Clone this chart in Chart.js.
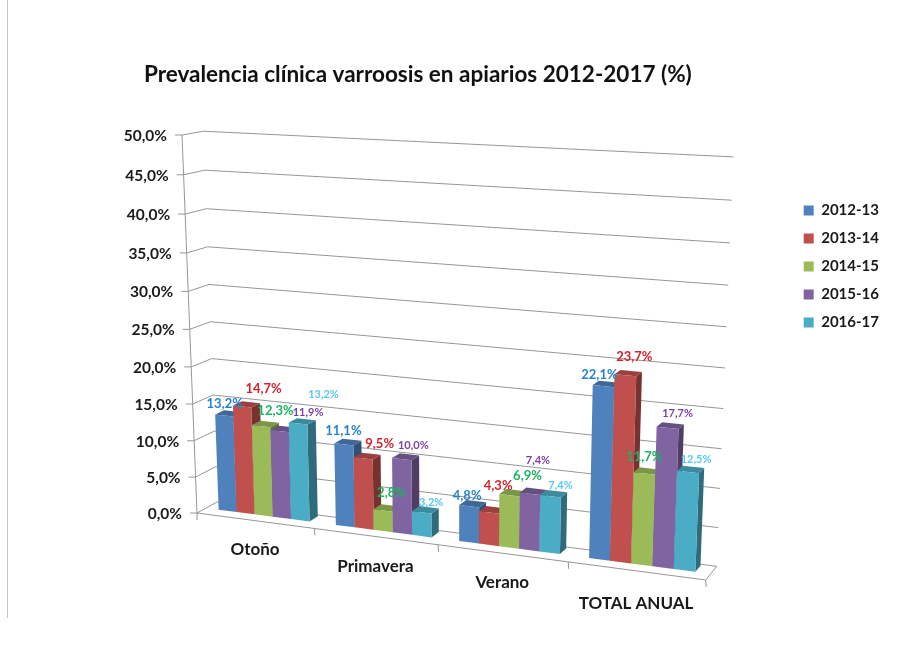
<!DOCTYPE html>
<html>
<head>
<meta charset="utf-8">
<title>Prevalencia clínica varroosis</title>
<script src="https://cdn.jsdelivr.net/npm/chart.js@4"></script>
<style>
    html, body { margin: 0; padding: 0; background: #fff; }
    #wrap { position: relative; width: 913px; height: 646px; }
    #edge { position: absolute; left: 7px; top: 0; width: 1px; height: 618px; background: #c4c4c4; }
</style>
</head>
<body>
<div id="wrap">
    <div id="edge"></div>
    <canvas id="my-chart" width="913" height="646"></canvas>
</div>
<script>
const categories = ['Otoño', 'Primavera', 'Verano', 'TOTAL ANUAL'];
const seriesNames = ['2012-13', '2013-14', '2014-15', '2015-16', '2016-17'];
const values1213 = [13.2, 11.1, 4.8, 22.1];
const values1314 = [14.7, 9.5, 4.3, 23.7];
const values1415 = [12.3, 2.8, 6.9, 11.7];
const values1516 = [11.9, 10.0, 7.4, 17.7];
const values1617 = [13.2, 3.2, 7.4, 12.5];
const allValues = [values1213, values1314, values1415, values1516, values1617];

const barColors = ['#4f81bd', '#c0504d', '#9bbb59', '#8064a2', '#4bacc6'];
const labelColors = ['#2583c9', '#d2232a', '#1db25f', '#7a3fa6', '#58c8ee'];

// the labels were placed by hand in the original, so they need their own nudges
const labelNudge = [
    [[0.5, -12], [-0.5, -13], [-2, -11], [-4, -11]],
    [[21.5, -18], [16.5, -15], [9, -27], [9, -18]],
    [[14.5, -15], [8.5, -18], [18, -19], [0, -17]],
    [[28.5, -19], [11.5, -14], [8, -33], [10, -15]],
    [[25.5, -29], [9.5, -10], [10, -11], [8, -13]]
];
const categoryNudge = [0, 1, 0, 4];

// 3D projection of the plot box: u along categories, v up the value axis, d into the page
const P0 = [197, 513];
const persp = { c: -0.0997, e: -0.055, f: 0.02 };
const cornerU = [705.7, 580];
const cornerV = [182, 135];
const cornerD = [217, 502];
const vecU = cornerU.map((n, i) => (1 + persp.c) * n - P0[i]);
const vecV = cornerV.map((n, i) => (1 + persp.e) * n - P0[i]);
const vecD = cornerD.map((n, i) => (1 + persp.f) * n - P0[i]);

function project(u, v, d) {
    const w = 1 + persp.c * u + persp.e * v + persp.f * d;
    return [
        (P0[0] + u * vecU[0] + v * vecV[0] + d * vecD[0]) / w,
        (P0[1] + u * vecU[1] + v * vecV[1] + d * vecD[1]) / w
    ];
}

const barFront = 0.45;
const barBack = 0.9;

function shade(hex, k) {
    const n = parseInt(hex.slice(1), 16);
    const r = Math.round((n >> 16) * k);
    const g = Math.round(((n >> 8) & 255) * k);
    const b = Math.round((n & 255) * k);
    return `rgb(${r},${g},${b})`;
}

function poly(ctx, pts, fill) {
    ctx.beginPath();
    pts.forEach((p, i) => i ? ctx.lineTo(p[0], p[1]) : ctx.moveTo(p[0], p[1]));
    ctx.closePath();
    ctx.fillStyle = fill;
    ctx.fill();
}

function line(ctx, pts) {
    ctx.beginPath();
    pts.forEach((p, i) => i ? ctx.lineTo(p[0], p[1]) : ctx.moveTo(p[0], p[1]));
    ctx.stroke();
}

function formatValue(val) {
    return val.toFixed(1).replace('.', ',') + '%';
}

const box3d = {
    id: 'box3d',
    beforeDatasetsDraw(chart) {
        const ctx = chart.ctx;
        const area = chart.chartArea;
        const xScale = chart.scales.x;
        const yScale = chart.scales.y;
        const toU = px => (px - area.left) / area.width;
        const toV = py => (area.bottom - py) / area.height;

        ctx.save();
        ctx.lineWidth = 1;
        ctx.strokeStyle = '#969696';

        // walls and value labels
        ctx.font = 'bold 15.5px Lato';
        ctx.textAlign = 'right';
        ctx.textBaseline = 'middle';
        yScale.ticks.forEach(tick => {
            const v = toV(yScale.getPixelForValue(tick.value));
            const front = project(0, v, 0);
            line(ctx, [[front[0] - 7, front[1]], front, project(0, v, 1), project(1, v, 1)]);
            ctx.fillStyle = '#1a1a1a';
            ctx.fillText(tick.label, front[0] - 15, front[1] + 1);
        });
        line(ctx, [project(0, 0, 0), project(0, 1, 0)]);

        // floor
        line(ctx, [project(0, 0, 0), project(1, 0, 0), project(1, 0, 1)]);

        // category ticks and names
        ctx.textAlign = 'center';
        ctx.font = 'bold 17px Lato';
        categories.forEach((name, i) => {
            const right = project((i + 1) / categories.length, 0, 0);
            line(ctx, [right, [right[0] + 0.5, right[1] + 7]]);
            const mid = project(toU(xScale.getPixelForValue(i)), 0, 0);
            ctx.fillStyle = '#1a1a1a';
            ctx.fillText(name, mid[0], mid[1] + 29 + categoryNudge[i]);
        });
        const start = project(0, 0, 0);
        line(ctx, [start, [start[0], start[1] + 7]]);

        // bars, left to right so the nearer ones cover the sides of the previous
        const tops = [];
        categories.forEach((name, j) => {
            chart.data.datasets.forEach((ds, i) => {
                const bar = chart.getDatasetMeta(i).data[j];
                const u0 = toU(bar.x - bar.width / 2);
                const u1 = toU(bar.x + bar.width / 2);
                const v0 = toV(bar.base);
                const v1 = toV(bar.y);
                const col = barColors[i];
                poly(ctx, [project(u1, v0, barFront), project(u1, v0, barBack), project(u1, v1, barBack), project(u1, v1, barFront)], shade(col, 0.62));
                poly(ctx, [project(u0, v1, barFront), project(u1, v1, barFront), project(u1, v1, barBack), project(u0, v1, barBack)], shade(col, 0.8));
                poly(ctx, [project(u0, v0, barFront), project(u1, v0, barFront), project(u1, v1, barFront), project(u0, v1, barFront)], col);
                tops.push({ i, j, at: project((u0 + u1) / 2, v1, barFront), val: ds.data[j] });
            });
        });

        // data labels go on top of everything
        tops.forEach(t => {
            const small = t.i > 2;
            ctx.font = (small ? 'bold 11px Lato' : 'bold 13px Lato');
            ctx.fillStyle = labelColors[t.i];
            ctx.fillText(formatValue(t.val), t.at[0] + labelNudge[t.i][t.j][0], t.at[1] + labelNudge[t.i][t.j][1]);
        });
        ctx.restore();
        return false;
    }
};

new Chart(document.getElementById('my-chart').getContext('2d'), {
    type: 'bar',
    plugins: [box3d],
    data: {
        labels: categories,
        datasets: seriesNames.map((name, i) => ({
            label: name,
            data: allValues[i],
            backgroundColor: barColors[i],
            categoryPercentage: 0.78,
            barPercentage: 1
        }))
    },
    options: {
        responsive: false,
        animation: false,
        layout: { padding: { left: 37, right: 24, bottom: 60 } },
        scales: {
            x: { ticks: { display: false }, grid: { display: false }, border: { display: false } },
            y: {
                min: 0,
                max: 50,
                ticks: { display: false, stepSize: 5, callback: val => formatValue(val) },
                grid: { display: false },
                border: { display: false }
            }
        },
        plugins: {
            tooltip: { enabled: false },
            title: {
                display: true,
                text: 'Prevalencia clínica varroosis en apiarios 2012-2017 (%)',
                fullSize: false,
                color: '#111',
                font: { family: 'Lato', size: 22.5, weight: 'bold' },
                padding: { top: 61, bottom: 102 }
            },
            legend: {
                position: 'right',
                align: 'start',
                fullSize: false,
                labels: {
                    boxWidth: 10,
                    boxHeight: 10,
                    padding: 13,
                    color: '#1a1a1a',
                    font: { family: 'Lato', size: 15, weight: 'bold' }
                }
            }
        }
    }
});
</script>
</body>
</html>
